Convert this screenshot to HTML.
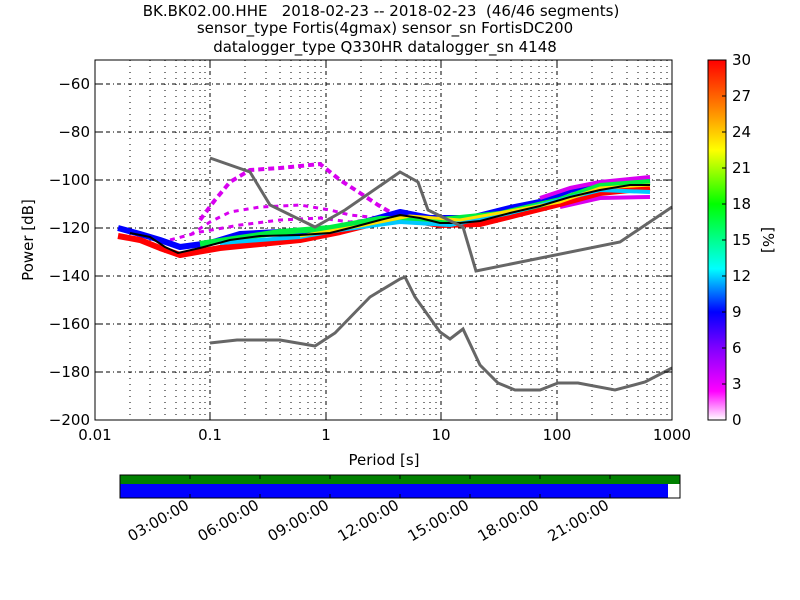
<!DOCTYPE html>
<html><head><meta charset="utf-8"><style>body{margin:0;background:#fff}svg{display:block;font-family:"DejaVu Sans","Liberation Sans",sans-serif}</style></head><body>
<svg width="800" height="600" xmlns="http://www.w3.org/2000/svg">
<defs>
<linearGradient id="cb" x1="0" y1="1" x2="0" y2="0">
<stop offset="0" stop-color="#ffffff"/><stop offset="0.08" stop-color="#ff00ff"/><stop offset="0.2" stop-color="#8000ff"/><stop offset="0.3" stop-color="#0000ff"/><stop offset="0.42" stop-color="#00ffff"/><stop offset="0.6" stop-color="#00ff00"/><stop offset="0.75" stop-color="#ffff00"/><stop offset="0.87" stop-color="#ff8000"/><stop offset="1" stop-color="#ff0000"/>
</linearGradient>
</defs>
<g font-size="15" text-anchor="middle" fill="#000" style="white-space:pre">
<text x="381" y="16" xml:space="preserve">BK.BK02.00.HHE   2018-02-23 -- 2018-02-23  (46/46 segments)</text>
<text x="385" y="33">sensor_type Fortis(4gmax) sensor_sn FortisDC200</text>
<text x="385" y="52">datalogger_type Q330HR datalogger_sn 4148</text>
</g>
<g stroke="#000" stroke-width="1" stroke-dasharray="1,5" fill="none">
<path d="M130 60V420M150 60V420M165 60V420M176 60V420M185 60V420M193 60V420M200 60V420M205 60V420M245 60V420M266 60V420M280 60V420M291 60V420M300 60V420M308 60V420M315 60V420M321 60V420M361 60V420M381 60V420M396 60V420M407 60V420M416 60V420M424 60V420M430 60V420M436 60V420M476 60V420M497 60V420M511 60V420M522 60V420M531 60V420M539 60V420M546 60V420M552 60V420M592 60V420M612 60V420M627 60V420M638 60V420M647 60V420M654 60V420M661 60V420M667 60V420"/>
</g>
<g stroke="#000" stroke-width="1" stroke-dasharray="4,3,1,3" fill="none">
<path d="M210 60V420M326 60V420M441 60V420M557 60V420"/>
<path d="M95 84H672M95 132H672M95 180H672M95 228H672M95 276H672M95 324H672M95 372H672"/>
</g>
<g fill="none" stroke-linejoin="round">
<polyline stroke="#d800f0" stroke-width="4" stroke-dasharray="6,4" points="200,220 215,200 230,182 250,170 280,168 320,164 340,180 360,193 378,205 395,215"/>
<polyline stroke="#d800f0" stroke-width="3" stroke-dasharray="5,5" points="190,235 210,222 230,212 260,207 300,205 330,210 350,215 380,218"/>
<polyline stroke="#d800f0" stroke-width="3" stroke-dasharray="5,5" points="170,240 200,232 240,225 280,220 320,218 350,222 380,218"/>
<polyline stroke="#0000ff" stroke-width="6" points="118,228 140,234 160,240 180,247 210,243 240,234 280,232 320,232 360,223 400,212 430,218 470,218 510,208 540,202 570,190 600,183 650,180"/>
<polyline stroke="#d800f0" stroke-width="4" points="540,198 570,188 600,182 650,177"/>
<polyline stroke="#d800f0" stroke-width="4" points="560,207 600,198 650,197"/>
<polyline stroke="#ff0000" stroke-width="6" points="118,236 140,240 160,248 180,255 220,248 260,244 300,240 340,232 380,222 400,218 440,225 480,224 520,214 560,204 600,193 650,188"/>
<polyline stroke="#00ee40" stroke-width="6" points="200,244 240,238 280,232 330,228 380,219 440,220 500,214 560,200 600,186 650,182"/>
<polyline stroke="#00c8ff" stroke-width="4" points="220,243 260,240 300,237 340,230 400,222 450,225 510,213 560,200 600,190 650,192"/>
<polyline stroke="#ffe000" stroke-width="3" points="300,236 360,226 410,216 460,220 510,211 560,202 600,188 650,185"/>
</g>
<polyline fill="none" stroke="#000" stroke-width="2" points="130,233 150,237 165,247 178,253 200,248 230,240 260,236 300,235 330,233 350,228 380,220 400,215 420,218 440,223 460,223 480,221 510,213 540,206 570,197 600,190 630,185 650,185"/>
<g fill="none" stroke="#666" stroke-width="3">
<polyline points="210,158 250,172 270,205 315,227 345,210 400,172 418,182 428,210 463,227 476,271 620,242 672,207"/>
<polyline points="210,343 237,340 280,340 315,346 335,333 370,297 400,279 405,277 415,297 440,332 450,339 463,329 480,365 498,383 515,390 540,390 558,383 578,383 615,390 645,382 672,368"/>
</g>
<rect x="95" y="60" width="577" height="360" fill="none" stroke="#000" stroke-width="1"/>
<g stroke="#000">
<path d="M95 84h8M95 132h8M95 180h8M95 228h8M95 276h8M95 324h8M95 372h8M672 84h-8M672 132h-8M672 180h-8M672 228h-8M672 276h-8M672 324h-8M672 372h-8"/>
<path d="M210 420v-8M326 420v-8M441 420v-8M557 420v-8M210 60v8M326 60v8M441 60v8M557 60v8"/>
</g>
<g font-size="15" text-anchor="end">
<text x="90" y="89">−60</text><text x="90" y="137">−80</text><text x="90" y="185">−100</text><text x="90" y="233">−120</text><text x="90" y="281">−140</text><text x="90" y="329">−160</text><text x="90" y="377">−180</text><text x="90" y="425">−200</text>
</g>
<g font-size="15" text-anchor="middle">
<text x="95" y="440">0.01</text><text x="210" y="440">0.1</text><text x="326" y="440">1</text><text x="441" y="440">10</text><text x="557" y="440">100</text><text x="672" y="440">1000</text>
<text x="384" y="465">Period [s]</text>
</g>
<text transform="translate(33,240) rotate(-90)" font-size="15" text-anchor="middle">Power [dB]</text>
<rect x="708" y="60" width="18" height="360" fill="url(#cb)" stroke="#000"/>
<g stroke="#000"><path d="M722 60h4M722 96h4M722 132h4M722 168h4M722 204h4M722 240h4M722 276h4M722 312h4M722 348h4M722 384h4M722 420h4"/></g>
<g font-size="15">
<text x="732" y="65">30</text><text x="732" y="101">27</text><text x="732" y="137">24</text><text x="732" y="173">21</text><text x="732" y="209">18</text><text x="732" y="245">15</text><text x="732" y="281">12</text><text x="732" y="317">9</text><text x="732" y="353">6</text><text x="732" y="389">3</text><text x="732" y="425">0</text>
</g>
<text transform="translate(763,240) rotate(90)" font-size="15" text-anchor="middle">[%]</text>
<rect x="120" y="475" width="560" height="9" fill="#008000"/>
<rect x="120" y="484" width="548" height="14" fill="#0000ff"/>
<rect x="120" y="475" width="560" height="23" fill="none" stroke="#000"/>
<g stroke="#000"><path d="M190 475v4M260 475v4M330 475v4M400 475v4M470 475v4M540 475v4M610 475v4M190 498v-4M260 498v-4M330 498v-4M400 498v-4M470 498v-4M540 498v-4M610 498v-4"/></g>
<g font-size="15" text-anchor="end">
<text transform="translate(190,508) rotate(-30)">03:00:00</text>
<text transform="translate(260,508) rotate(-30)">06:00:00</text>
<text transform="translate(330,508) rotate(-30)">09:00:00</text>
<text transform="translate(400,508) rotate(-30)">12:00:00</text>
<text transform="translate(470,508) rotate(-30)">15:00:00</text>
<text transform="translate(540,508) rotate(-30)">18:00:00</text>
<text transform="translate(610,508) rotate(-30)">21:00:00</text>
</g>
</svg>
</body></html>
